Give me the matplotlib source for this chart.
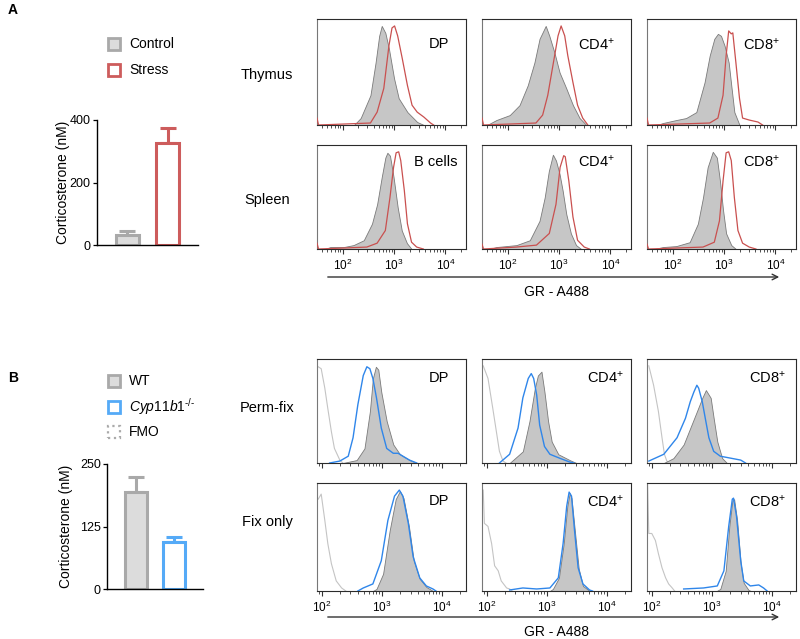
import matplotlib
matplotlib.use('Agg')
import matplotlib.pyplot as plt
import numpy as np
from matplotlib.patches import Rectangle, FancyArrowPatch

plt.rcParams['font.family'] = ['Liberation Sans', 'DejaVu Sans']
plt.rcParams['mathtext.fontset'] = 'custom'
plt.rcParams['mathtext.rm'] = 'Liberation Sans'
plt.rcParams['mathtext.it'] = 'Liberation Sans:italic'

# ---- bar chart data ----
a_groups = ['Control', 'Stress']
a_means = [32, 326]
a_errs = [13, 48]
b_groups = ['WT', r'$\it{Cyp11b1}^{\text{-/-}}$', 'FMO']
b_means = [194, 94]
b_errs = [30, 10]

# ---- histogram data (x = log10 fluorescence, y = fraction of max) ----
# panel A, thymus
thy_dp_ctrl_x = [2.22, 2.35, 2.54, 2.64, 2.71, 2.76, 2.83, 2.90, 3.00, 3.09, 3.26, 3.45, 3.58]
thy_dp_ctrl_y = [0.0, 0.07, 0.30, 0.63, 0.90, 1.0, 0.93, 0.77, 0.47, 0.27, 0.13, 0.03, 0.0]
thy_dp_str_x = [1.50, 1.53, 2.54, 2.67, 2.80, 2.90, 2.96, 3.01, 3.07, 3.16, 3.26, 3.35, 3.45, 3.58, 3.71, 3.77]
thy_dp_str_y = [0.07, 0.0, 0.02, 0.13, 0.37, 0.80, 0.98, 1.0, 0.90, 0.67, 0.40, 0.20, 0.13, 0.08, 0.02, 0.0]
thy_cd4_ctrl_x = [1.60, 1.78, 2.04, 2.23, 2.39, 2.52, 2.62, 2.74, 2.81, 2.91, 3.01, 3.14, 3.27, 3.40, 3.53]
thy_cd4_ctrl_y = [0.0, 0.05, 0.10, 0.20, 0.40, 0.63, 0.87, 1.0, 0.90, 0.73, 0.53, 0.37, 0.20, 0.07, 0.0]
thy_cd4_str_x = [1.50, 1.53, 2.55, 2.68, 2.78, 2.88, 2.98, 3.04, 3.11, 3.17, 3.27, 3.36, 3.46, 3.56]
thy_cd4_str_y = [0.07, 0.0, 0.02, 0.10, 0.30, 0.60, 0.90, 1.0, 0.90, 0.70, 0.43, 0.20, 0.07, 0.0]
thy_cd8_ctrl_x = [1.70, 1.81, 2.07, 2.26, 2.46, 2.62, 2.72, 2.81, 2.88, 2.94, 3.01, 3.09, 3.14, 3.20, 3.30]
thy_cd8_ctrl_y = [0.0, 0.02, 0.05, 0.07, 0.13, 0.43, 0.70, 0.87, 0.92, 0.90, 0.80, 0.63, 0.40, 0.13, 0.0]
thy_cd8_str_x = [1.50, 1.53, 2.72, 2.88, 2.98, 3.04, 3.09, 3.14, 3.17, 3.23, 3.30, 3.36, 3.49, 3.66, 3.75]
thy_cd8_str_y = [0.07, 0.0, 0.02, 0.07, 0.30, 0.70, 0.95, 0.92, 0.93, 0.63, 0.27, 0.07, 0.05, 0.03, 0.0]
# panel A, spleen
spl_b_ctrl_x = [1.65, 1.76, 2.02, 2.21, 2.41, 2.57, 2.67, 2.76, 2.83, 2.87, 2.92, 2.99, 3.07, 3.15, 3.25, 3.34]
spl_b_ctrl_y = [0.0, 0.02, 0.02, 0.04, 0.09, 0.26, 0.46, 0.74, 0.94, 0.99, 0.96, 0.74, 0.43, 0.19, 0.06, 0.0]
spl_b_str_x = [1.50, 1.53, 2.02, 2.47, 2.67, 2.83, 2.92, 2.99, 3.04, 3.09, 3.13, 3.20, 3.26, 3.34, 3.44, 3.57]
spl_b_str_y = [0.06, 0.0, 0.01, 0.02, 0.06, 0.19, 0.53, 0.84, 0.99, 1.0, 0.91, 0.60, 0.26, 0.07, 0.02, 0.0]
spl_cd4_ctrl_x = [1.65, 1.78, 2.17, 2.43, 2.62, 2.72, 2.80, 2.88, 2.94, 3.01, 3.07, 3.14, 3.23, 3.33, 3.43]
spl_cd4_ctrl_y = [0.0, 0.02, 0.04, 0.09, 0.29, 0.53, 0.80, 0.97, 0.91, 0.77, 0.60, 0.36, 0.16, 0.04, 0.0]
spl_cd4_str_x = [1.50, 1.53, 2.17, 2.56, 2.81, 2.94, 3.02, 3.09, 3.12, 3.19, 3.27, 3.36, 3.49, 3.59]
spl_cd4_str_y = [0.05, 0.0, 0.02, 0.04, 0.16, 0.46, 0.84, 0.96, 0.95, 0.70, 0.33, 0.09, 0.02, 0.0]
spl_cd8_ctrl_x = [1.65, 1.81, 2.07, 2.33, 2.49, 2.59, 2.68, 2.78, 2.86, 2.92, 2.98, 3.04, 3.14, 3.23]
spl_cd8_ctrl_y = [0.0, 0.02, 0.03, 0.07, 0.26, 0.53, 0.84, 1.0, 0.94, 0.70, 0.40, 0.16, 0.04, 0.0]
spl_cd8_str_x = [1.50, 1.53, 2.07, 2.59, 2.81, 2.91, 2.98, 3.04, 3.09, 3.14, 3.20, 3.27, 3.36, 3.49, 3.62]
spl_cd8_str_y = [0.05, 0.0, 0.01, 0.02, 0.07, 0.29, 0.70, 0.99, 1.0, 0.91, 0.53, 0.19, 0.06, 0.02, 0.0]
# panel B, perm-fix
pf_dp_fmo_x = [1.94, 1.99, 2.05, 2.10, 2.16, 2.21, 2.30, 2.35]
pf_dp_fmo_y = [0.99, 0.97, 0.77, 0.56, 0.32, 0.15, 0.03, 0.0]
pf_dp_ko_x = [2.13, 2.30, 2.44, 2.52, 2.60, 2.69, 2.75, 2.80, 2.85, 2.91, 2.99, 3.08, 3.19, 3.27, 3.35, 3.46, 3.58]
pf_dp_ko_y = [0.0, 0.02, 0.07, 0.26, 0.60, 0.90, 0.99, 0.97, 0.87, 0.67, 0.36, 0.15, 0.10, 0.10, 0.07, 0.03, 0.0]
pf_dp_wt_x = [2.35, 2.58, 2.71, 2.80, 2.85, 2.90, 2.94, 2.99, 3.08, 3.19, 3.30, 3.46, 3.58]
pf_dp_wt_y = [0.0, 0.03, 0.15, 0.53, 0.87, 0.99, 0.96, 0.73, 0.43, 0.19, 0.09, 0.03, 0.0]
pf_cd4_fmo_x = [1.94, 2.02, 2.10, 2.16, 2.21, 2.27, 2.32]
pf_cd4_fmo_y = [1.0, 0.87, 0.56, 0.32, 0.12, 0.02, 0.0]
pf_cd4_ko_x = [2.21, 2.38, 2.52, 2.60, 2.69, 2.74, 2.78, 2.83, 2.88, 2.96, 3.05, 3.21, 3.38, 3.45]
pf_cd4_ko_y = [0.0, 0.09, 0.36, 0.67, 0.87, 0.92, 0.87, 0.70, 0.39, 0.17, 0.09, 0.05, 0.01, 0.0]
pf_cd4_wt_x = [2.38, 2.60, 2.71, 2.80, 2.85, 2.91, 2.96, 3.02, 3.08, 3.19, 3.38, 3.49]
pf_cd4_wt_y = [0.0, 0.12, 0.43, 0.77, 0.90, 0.94, 0.73, 0.43, 0.22, 0.09, 0.03, 0.0]
pf_cd8_fmo_x = [1.95, 2.03, 2.11, 2.17, 2.21, 2.25, 2.29]
pf_cd8_fmo_y = [1.0, 0.80, 0.53, 0.26, 0.09, 0.02, 0.0]
pf_cd8_ko_x = [1.95, 2.20, 2.42, 2.56, 2.64, 2.70, 2.75, 2.78, 2.84, 2.89, 2.95, 3.03, 3.14, 3.31, 3.48, 3.56]
pf_cd8_ko_y = [0.02, 0.09, 0.26, 0.46, 0.63, 0.73, 0.80, 0.77, 0.63, 0.46, 0.26, 0.12, 0.07, 0.05, 0.03, 0.0]
pf_cd8_wt_x = [2.20, 2.36, 2.53, 2.64, 2.75, 2.84, 2.90, 2.98, 3.03, 3.09, 3.17, 3.25]
pf_cd8_wt_y = [0.0, 0.05, 0.19, 0.36, 0.53, 0.67, 0.75, 0.67, 0.46, 0.22, 0.05, 0.0]
# panel B, fix only
fo_dp_fmo_x = [1.94, 1.99, 2.05, 2.10, 2.16, 2.24, 2.33, 2.40]
fo_dp_fmo_y = [0.91, 0.96, 0.70, 0.47, 0.27, 0.10, 0.03, 0.0]
fo_dp_ko_x = [2.60, 2.69, 2.85, 2.99, 3.10, 3.21, 3.29, 3.35, 3.44, 3.52, 3.63, 3.74, 3.85, 3.90]
fo_dp_ko_y = [0.0, 0.03, 0.07, 0.30, 0.70, 0.94, 1.0, 0.94, 0.67, 0.34, 0.13, 0.05, 0.02, 0.0]
fo_dp_wt_x = [2.85, 2.91, 3.02, 3.13, 3.23, 3.30, 3.36, 3.45, 3.53, 3.63, 3.74, 3.85]
fo_dp_wt_y = [0.0, 0.02, 0.17, 0.60, 0.91, 0.99, 0.92, 0.64, 0.30, 0.12, 0.04, 0.0]
fo_cd4_fmo_x = [1.94, 1.96, 2.02, 2.08, 2.13, 2.19, 2.24, 2.33, 2.38, 2.42]
fo_cd4_fmo_y = [1.0, 0.67, 0.64, 0.47, 0.25, 0.20, 0.10, 0.03, 0.02, 0.0]
fo_cd4_ko_x = [2.38, 2.60, 2.83, 3.05, 3.19, 3.27, 3.33, 3.37, 3.41, 3.46, 3.52, 3.60, 3.71, 3.76]
fo_cd4_ko_y = [0.01, 0.03, 0.02, 0.03, 0.13, 0.47, 0.84, 0.98, 0.94, 0.60, 0.23, 0.07, 0.01, 0.0]
fo_cd4_wt_x = [3.05, 3.10, 3.20, 3.28, 3.34, 3.38, 3.41, 3.47, 3.53, 3.60, 3.69, 3.72]
fo_cd4_wt_y = [0.0, 0.02, 0.13, 0.47, 0.84, 0.97, 0.92, 0.57, 0.22, 0.05, 0.01, 0.0]
fo_cd8_fmo_x = [1.93, 1.95, 2.00, 2.06, 2.11, 2.17, 2.23, 2.28, 2.34, 2.38]
fo_cd8_fmo_y = [1.05, 0.57, 0.57, 0.50, 0.37, 0.23, 0.13, 0.07, 0.03, 0.0]
fo_cd8_ko_x = [2.53, 2.86, 3.09, 3.20, 3.28, 3.34, 3.36, 3.41, 3.48, 3.53, 3.64, 3.78, 3.86, 3.92]
fo_cd8_ko_y = [0.02, 0.03, 0.05, 0.20, 0.64, 0.91, 0.92, 0.74, 0.30, 0.10, 0.05, 0.06, 0.03, 0.0]
fo_cd8_wt_x = [3.08, 3.14, 3.23, 3.29, 3.34, 3.37, 3.42, 3.48, 3.53, 3.61, 3.65]
fo_cd8_wt_y = [0.0, 0.02, 0.20, 0.64, 0.89, 0.91, 0.70, 0.27, 0.08, 0.01, 0.0]

a_panel_labels = [['DP', 'CD4$^{+}$', 'CD8$^{+}$'], ['B cells', 'CD4$^{+}$', 'CD8$^{+}$']]
b_panel_labels = [['DP', 'CD4$^{+}$', 'CD8$^{+}$'], ['DP', 'CD4$^{+}$', 'CD8$^{+}$']]
a_row_labels = ['Thymus', 'Spleen']
b_row_labels = ['Perm-fix', 'Fix only']
decades = [2, 3, 4]

GRAY_FILL = '#c6c6c6'
GRAY_EDGE = '#7a7a7a'
RED = '#c9504f'
BLUE = '#2f86ea'
FMO = '#c4c4c4'
BAR_GRAY = '#a9a9a9'
BAR_FILL = '#dcdcdc'
BAR_RED = '#cd5c5c'
BAR_BLUE = '#55aaf7'

W, H = 800, 639
fig = plt.figure(figsize=(8, 6.39), dpi=100)


def add_ax(left, top, width, height):
    return fig.add_axes([left / W, 1 - (top + height) / H, width / W, height / H])


def style_hist(ax, xlim, show_labels):
    ax.set_xlim(*xlim)
    ax.set_ylim(0, 1.07)
    ax.set_yticks([])
    ax.set_xticks(decades)
    minor = [np.log10(k * 10.0 ** d) for d in [1, 2, 3, 4] for k in range(2, 10)]
    ax.set_xticks([m for m in minor if xlim[0] <= m <= xlim[1]], minor=True)
    ax.tick_params(axis='x', which='major', length=3.5, width=0.8, direction='out', color='#333333', pad=2.5)
    ax.tick_params(axis='x', which='minor', length=1.8, width=0.6, direction='out', color='#333333')
    if show_labels:
        ax.set_xticklabels([f'$10^{{{d}}}$' for d in decades], fontsize=8.5, family='DejaVu Serif')
    else:
        ax.set_xticklabels([])
    for s in ax.spines.values():
        s.set_color('#2b2b2b')
        s.set_linewidth(0.8)
    ax.spines['left'].set_color('#777777')


def gray_hist(ax, x, y):
    ax.fill_between(x, y, 0, facecolor=GRAY_FILL, edgecolor=GRAY_EDGE, linewidth=0.6, zorder=2)


cols = [317, 482, 647]

# ---- panel A histograms ----
a_rows = [(19, 106), (145, 104)]
a_sets = [
    [(thy_dp_ctrl_x, thy_dp_ctrl_y, thy_dp_str_x, thy_dp_str_y),
     (thy_cd4_ctrl_x, thy_cd4_ctrl_y, thy_cd4_str_x, thy_cd4_str_y),
     (thy_cd8_ctrl_x, thy_cd8_ctrl_y, thy_cd8_str_x, thy_cd8_str_y)],
    [(spl_b_ctrl_x, spl_b_ctrl_y, spl_b_str_x, spl_b_str_y),
     (spl_cd4_ctrl_x, spl_cd4_ctrl_y, spl_cd4_str_x, spl_cd4_str_y),
     (spl_cd8_ctrl_x, spl_cd8_ctrl_y, spl_cd8_str_x, spl_cd8_str_y)],
]
a_text_pos = [[(0.89, 0.76), (0.89, 0.76), (0.89, 0.76)], [(0.94, 0.84), (0.89, 0.84), (0.89, 0.84)]]
for r, (top, h) in enumerate(a_rows):
    for c, left in enumerate(cols):
        ax = add_ax(left, top, 149, h)
        cx, cy, sx, sy = a_sets[r][c]
        gray_hist(ax, cx, cy)
        ax.plot(sx, sy, color=RED, lw=0.9, zorder=3)
        style_hist(ax, (1.5, 4.4), r == 1)
        tx, ty = a_text_pos[r][c]
        ax.text(tx, ty, a_panel_labels[r][c], transform=ax.transAxes, ha='right', va='center', fontsize=10.5)
    fig.text(267 / W, 1 - (top + h * 0.53) / H, a_row_labels[r], ha='center', va='center', fontsize=10.5)

# ---- panel B histograms ----
b_rows = [(359, 104), (483, 108)]
b_sets = [
    [(pf_dp_fmo_x, pf_dp_fmo_y, pf_dp_wt_x, pf_dp_wt_y, pf_dp_ko_x, pf_dp_ko_y),
     (pf_cd4_fmo_x, pf_cd4_fmo_y, pf_cd4_wt_x, pf_cd4_wt_y, pf_cd4_ko_x, pf_cd4_ko_y),
     (pf_cd8_fmo_x, pf_cd8_fmo_y, pf_cd8_wt_x, pf_cd8_wt_y, pf_cd8_ko_x, pf_cd8_ko_y)],
    [(fo_dp_fmo_x, fo_dp_fmo_y, fo_dp_wt_x, fo_dp_wt_y, fo_dp_ko_x, fo_dp_ko_y),
     (fo_cd4_fmo_x, fo_cd4_fmo_y, fo_cd4_wt_x, fo_cd4_wt_y, fo_cd4_ko_x, fo_cd4_ko_y),
     (fo_cd8_fmo_x, fo_cd8_fmo_y, fo_cd8_wt_x, fo_cd8_wt_y, fo_cd8_ko_x, fo_cd8_ko_y)],
]
b_text_pos = [[(0.89, 0.82), (0.95, 0.82), (0.93, 0.82)], [(0.89, 0.83), (0.95, 0.83), (0.93, 0.83)]]
b_row_y = [408, 522]
for r, (top, h) in enumerate(b_rows):
    for c, left in enumerate(cols):
        ax = add_ax(left, top, 149, h)
        fx, fy, wx, wy, kx, ky = b_sets[r][c]
        ax.plot(fx, fy, color=FMO, lw=0.8, zorder=1)
        gray_hist(ax, wx, wy)
        ax.plot(kx, ky, color=BLUE, lw=1.0, zorder=3)
        style_hist(ax, (1.92, 4.4), r == 1)
        tx, ty = b_text_pos[r][c]
        ax.text(tx, ty, b_panel_labels[r][c], transform=ax.transAxes, ha='right', va='center', fontsize=10.5)
    fig.text(267 / W, 1 - b_row_y[r] / H, b_row_labels[r], ha='center', va='center', fontsize=10.5)

# ---- x-axis arrows ----
for arrow_y, label_y in [(277, 292), (617, 632)]:
    fig.add_artist(FancyArrowPatch(
        (325 / W, 1 - arrow_y / H), (782 / W, 1 - arrow_y / H), transform=fig.transFigure,
        arrowstyle='->', mutation_scale=10, color='#333333', lw=1.0))
    fig.text(557 / W, 1 - label_y / H, 'GR - A488', ha='center', va='center', fontsize=10)


# ---- bar charts ----
def bar_panel(ax, means, errs, edges, faces, ymax, yticks, label_x):
    pos = np.arange(len(means))
    for i in range(len(means)):
        ax.errorbar(pos[i], means[i], yerr=[[0], [errs[i]]], fmt='none', ecolor=edges[i],
                    elinewidth=2.2, capsize=6, capthick=2.2, zorder=1)
        ax.bar(pos[i], means[i], width=0.57, color=faces[i], edgecolor=edges[i], linewidth=2.2, zorder=2)
    ax.set_xlim(-0.75, 1.75)
    ax.set_ylim(0, ymax)
    ax.set_yticks(yticks)
    ax.set_xticks([])
    ax.tick_params(axis='y', labelsize=9, length=3, width=0.9, pad=1.5)
    for s in ['top', 'right']:
        ax.spines[s].set_visible(False)
    for s in ['left', 'bottom']:
        ax.spines[s].set_linewidth(1.0)
    ax.set_ylabel('Corticosterone (nM)', fontsize=10)
    ax.yaxis.set_label_coords(label_x, 0.5)


axa = add_ax(97, 120, 101, 125)
bar_panel(axa, a_means, a_errs, [BAR_GRAY, BAR_RED], [BAR_FILL, 'white'], 400, [0, 200, 400], -0.27)
axb = add_ax(107, 464, 96, 125)
bar_panel(axb, b_means, b_errs, [BAR_GRAY, BAR_BLUE], [BAR_FILL, 'white'], 250, [0, 125, 250], -0.355)


# ---- legends (square swatch + label) ----
def legend_rows(labels, edges, faces, styles, ys):
    for lab, ec, fc, ls, y in zip(labels, edges, faces, styles, ys):
        lw = 1.6 if ls == ':' else 2.0
        fig.add_artist(Rectangle((108 / W, 1 - (y + 6) / H), 12 / W, 12 / H, transform=fig.transFigure,
                                 facecolor=fc, edgecolor=ec, linewidth=lw, linestyle=ls))
        fig.text(129 / W, 1 - y / H, lab, ha='left', va='center', fontsize=10)


legend_rows(a_groups, [BAR_GRAY, BAR_RED], [BAR_FILL, 'white'], ['-', '-'], [44, 70])
legend_rows(b_groups, [BAR_GRAY, BAR_BLUE, '#aaaaaa'], [BAR_FILL, 'white', 'white'], ['-', '-', ':'],
            [381, 407, 432])

fig.text(8 / W, 1 - 10 / H, 'A', fontsize=10, fontweight='bold', ha='left', va='center')
fig.text(8 / W, 1 - 378 / H, 'B', fontsize=10, fontweight='bold', ha='left', va='center')

fig.savefig('out.png', dpi=100)
